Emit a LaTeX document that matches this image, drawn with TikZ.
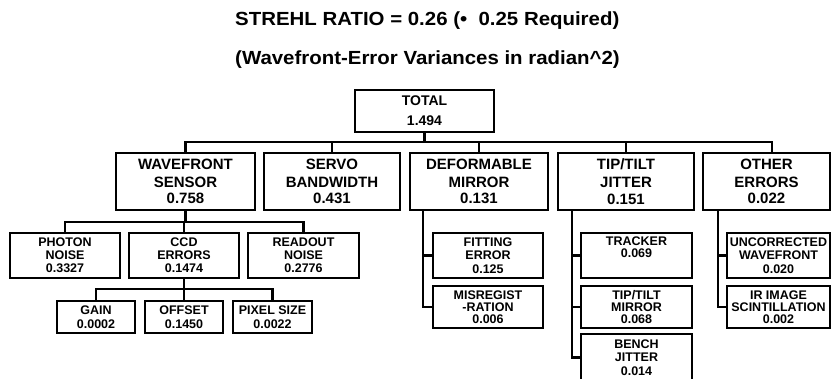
\documentclass[tikz,border=0pt]{standalone}
\usepackage{fontspec}
\setmainfont{Liberation Sans}
\newfontfamily\titlefont{Liberation Sans}[FakeStretch=1.075]
\usetikzlibrary{calc}
\begin{document}
\begin{tikzpicture}[x=1pt,y=-1pt,
  box/.style={draw, line width=2.5pt, inner sep=0pt, align=center},
  totalbox/.style={box, minimum width=139pt, minimum height=42pt, font=\fontsize{14}{20}\selectfont\bfseries},
  lvlone/.style={box, minimum height=57pt, font=\fontsize{15}{16.5}\selectfont\bfseries},
  lvltwo/.style={box, minimum height=45pt, font=\fontsize{12.5}{12.5}\selectfont\bfseries},
  lvlthree/.style={box, minimum height=32pt, font=\fontsize{12.5}{13.4}\selectfont\bfseries},
  lvlside/.style={box, minimum height=42pt, font=\fontsize{12.5}{12}\selectfont\bfseries},
  wire/.style={line width=2.3pt},
  titletext/.style={anchor=base west, inner sep=0pt, font=\fontsize{19}{19}\selectfont\titlefont\bfseries}]
\useasboundingbox (0,0) rectangle (831,378);

% titles
\node[titletext] (t1) at (235,25) {STREHL RATIO = 0.26 (\textbullet\ \ 0.25 Required)};
\node[titletext] (t2) at (235,64) {(Wavefront-Error Variances in radian\^{}2)};

% total
\node[totalbox] (total) at (424.5,111) {TOTAL\\1.494};

% level 1
\node[lvlone, minimum width=139pt] (wfs) at (185.5,181.5) {WAVEFRONT\\[1.5pt]SENSOR\\0.758};
\node[lvlone, minimum width=136pt] (servo) at (332,181.5) {SERVO\\[1.5pt]BANDWIDTH\\0.431};
\node[lvlone, minimum width=138pt] (dm) at (479,181.5) {DEFORMABLE\\[1.5pt]MIRROR\\0.131};
\node[lvlone, minimum width=136pt] (tt) at (626,181.5) {TIP/TILT\\[1.5pt]JITTER\\0.151};
\node[lvlone, minimum width=127pt] (other) at (766.5,181.5) {OTHER\\[1.5pt]ERRORS\\0.022};

% level 2 (wavefront sensor)
\node[lvltwo, minimum width=110pt] (photon) at (65,255.5) {PHOTON\\NOISE\\[1pt]0.3327};
\node[lvltwo, minimum width=110pt] (ccd) at (184,255.5) {CCD\\ERRORS\\[1pt]0.1474};
\node[lvltwo, minimum width=111pt] (readout) at (303.5,255.5) {READOUT\\NOISE\\[1pt]0.2776};

% level 3 (ccd)
\node[lvlthree, minimum width=78pt] (gain) at (96,317) {GAIN\\0.0002};
\node[lvlthree, minimum width=78pt] (offset) at (184,317) {OFFSET\\0.1450};
\node[lvlthree, minimum width=79pt] (pixel) at (272.5,317) {PIXEL SIZE\\0.0022};

% deformable mirror
\node[lvltwo, minimum width=110pt] (fitting) at (488,255.5) {FITTING\\ERROR\\[1.5pt]0.125};
\node[lvlside, minimum width=110pt] (misreg) at (488,307) {MISREGIST\\-RATION\\0.006};

% tip/tilt
\node[lvltwo, minimum width=111pt] (tracker) at (636.5,255.5) {TRACKER\\0.069\\\strut};
\node[lvlside, minimum width=111pt] (ttm) at (636.5,307) {TIP/TILT\\MIRROR\\0.068};
\node[lvltwo, minimum width=111pt, minimum height=47pt] (bench) at (636.5,357.5) {BENCH\\JITTER\\[1.5pt]0.014};

% other errors
\node[lvltwo, minimum width=103pt] (uncorr) at (778.5,255.5) {UNCORRECTED\\WAVEFRONT\\[1.5pt]0.020};
\node[lvlside, minimum width=103pt] (ir) at (778.5,307) {IR IMAGE\\SCINTILLATION\\0.002};

% connectors: top level
\coordinate (busy) at (0,142);
\coordinate (othertick) at ($(other.north)+(5.5,0)$);
\draw[wire] (total.south) -- (total.south |- busy);
\draw[wire] (wfs.north) -- (wfs.north |- busy) -- (othertick |- busy) -- (othertick);
\draw[wire] (servo.north) -- (servo.north |- busy);
\draw[wire] (dm.north) -- (dm.north |- busy);
\draw[wire] (tt.north) -- (tt.north |- busy);

% wavefront sensor subtree
\coordinate (wbus) at (0,222);
\draw[wire] (wfs.south) -- (wfs.south |- wbus);
\draw[wire] (photon.north) -- (photon.north |- wbus) -- (readout.north |- wbus) -- (readout.north);
\draw[wire] (ccd.north) -- (ccd.north |- wbus);

% ccd subtree
\coordinate (cbus) at (0,289);
\draw[wire] (ccd.south) -- (ccd.south |- cbus);
\draw[wire] (gain.north) -- (gain.north |- cbus) -- (pixel.north |- cbus) -- (pixel.north);
\draw[wire] (offset.north) -- (offset.north |- cbus);

% deformable mirror column
\coordinate (dmx) at ($(dm.south west)+(14,0)$);
\draw[wire] (dmx) |- (misreg.west);
\draw[wire] (dmx |- fitting.west) -- (fitting.west);

% tip/tilt column
\coordinate (ttx) at ($(tt.south west)+(15,0)$);
\draw[wire] (ttx) |- (bench.west);
\draw[wire] (ttx |- tracker.west) -- (tracker.west);
\draw[wire] (ttx |- ttm.west) -- (ttm.west);

% other errors column
\coordinate (otx) at ($(other.south west)+(16,0)$);
\draw[wire] (otx) |- (ir.west);
\draw[wire] (otx |- uncorr.west) -- (uncorr.west);
\end{tikzpicture}
\end{document}
